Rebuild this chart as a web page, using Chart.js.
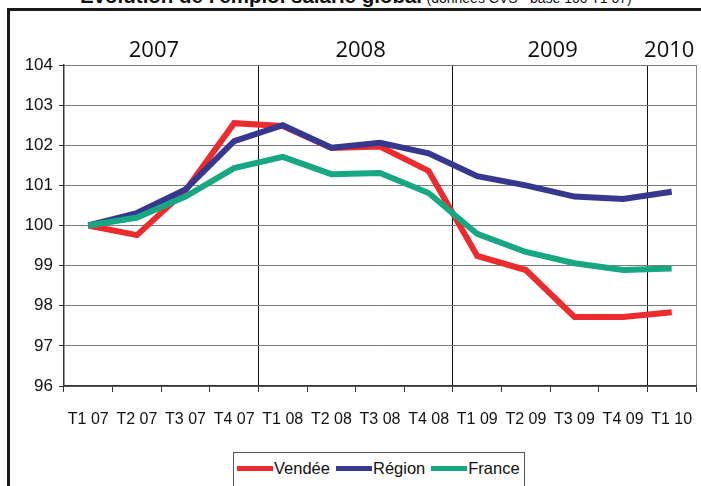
<!DOCTYPE html>
<html>
<head>
<meta charset="utf-8">
<script src="https://cdn.jsdelivr.net/npm/chart.js@4"></script>
<style>
  html, body { margin: 0; padding: 0; background: #fff; width: 701px; height: 486px; overflow: hidden; }
  #wrap { position: relative; width: 701px; height: 486px; overflow: hidden; }
  #frame { position: absolute; left: 7px; top: 8px; width: 800px; height: 600px; border: 3px solid #1a1a1a; box-sizing: border-box; }
  #title { position: absolute; left: 80px; top: -15px; white-space: nowrap; font-family: 'Liberation Sans', Arial, sans-serif; color: #111; line-height: 21px; }
  #title b { font-size: 20.5px; font-weight: bold; }
  #title span { font-size: 14px; }
  #chartBox { position: absolute; left: 0; top: 0; width: 701px; height: 486px; }
  #legend { position: absolute; left: 233px; top: 452px; width: 292px; height: 60px; border: 1px solid #555; box-sizing: border-box; background: #fff;
            font-family: 'Liberation Sans', Arial, sans-serif; font-size: 16.5px; color: #111; }
  #legend .items { display: flex; align-items: center; padding: 3px 0 0 3px; height: 24px; }
  #legend .item { display: flex; align-items: center; margin-right: 6px; }
  #legend .bar { width: 36px; height: 5px; margin-right: 1px; }
</style>
</head>
<body>
<div id="wrap">
  <div id="frame"></div>
  <div id="title"><b>Evolution de l'emploi salarié global</b> <span>(données CVS - base 100 T1 07)</span></div>
  <div id="chartBox"><canvas id="c" width="701" height="486"></canvas></div>
  <div id="legend"><div class="items" id="legendItems"></div></div>
</div>
<script>
// ---- data ----
const categories = ['T1 07','T2 07','T3 07','T4 07','T1 08','T2 08','T3 08','T4 08','T1 09','T2 09','T3 09','T4 09','T1 10'];
const vendee = [100, 99.76, 100.87, 102.55, 102.48, 101.93, 101.97, 101.36, 99.24, 98.89, 97.72, 97.72, 97.84];
const region = [100, 100.31, 100.9, 102.1, 102.5, 101.94, 102.06, 101.8, 101.23, 101.0, 100.72, 100.66, 100.84];
const france = [100, 100.2, 100.72, 101.43, 101.71, 101.28, 101.31, 100.81, 99.79, 99.34, 99.06, 98.89, 98.93];
const seriesNames = ['Vendée', 'Région', 'France'];
const yearLabels = ['2007', '2008', '2009', '2010'];
const yMin = 96, yMax = 104, yStep = 1;

// ---- styles ----
const colors = ['#ec2b2e', '#36378f', '#18a783'];
const yearCenters = [1.35, 5.6, 9.55, 11.95];   // in category units
const yearBoundaryIdx = [4, 8, 12];
const fontFam = "'Liberation Sans', Arial, sans-serif";

const yearPlugin = {
  id: 'yearLabels',
  afterDraw(chart) {
    const ctx = chart.ctx;
    const xs = chart.scales.x;
    ctx.save();
    ctx.fillStyle = '#0d0d0d';
    ctx.font = "22px 'Open Sans', 'Noto Sans', sans-serif";
    ctx.textAlign = 'center';
    ctx.textBaseline = 'alphabetic';
    yearLabels.forEach((t, i) => {
      ctx.fillText(t, xs.getPixelForValue(yearCenters[i]), 57);
    });
    ctx.restore();
  }
};

const data = [vendee, region, france];
new Chart(document.getElementById('c'), {
  type: 'line',
  data: {
    labels: categories,
    datasets: seriesNames.map((n, i) => ({
      label: n,
      data: data[i],
      borderColor: colors[i],
      backgroundColor: colors[i],
      borderWidth: 6,
      pointRadius: 0,
      tension: 0,
      fill: false,
      order: 2 - i
    }))
  },
  options: {
    responsive: false,
    animation: false,
    devicePixelRatio: 1,
    layout: { padding: { left: 0, right: 5, top: 65, bottom: 0 } },
    plugins: { legend: { display: false }, tooltip: { enabled: false }, title: { display: false } },
    scales: {
      x: {
        offset: true,
        afterFit(s) { s.height = 100; s.paddingLeft = 0; s.paddingRight = 0; },
        grid: {
          offset: true,
          drawOnChartArea: true,
          tickLength: 6,
          tickColor: '#333',
          color: (c) => {
            if (c.index === undefined) return '#8a8a8a';
            return yearBoundaryIdx.includes(c.index) ? '#111' : 'rgba(0,0,0,0)';
          },
          lineWidth: 1
        },
        border: { color: '#333', width: 1.5 },
        ticks: { autoSkip: false, maxRotation: 0, color: '#111', font: { family: fontFam, size: 16 }, padding: 18 }
      },
      y: {
        min: yMin, max: yMax,
        afterFit(s) { s.width = 64; s.paddingTop = 0; s.paddingBottom = 0; },
        grid: { color: '#7a7a7a', tickLength: 5, tickColor: '#333', lineWidth: 1 },
        border: { color: '#333', width: 1.5 },
        ticks: { stepSize: yStep, color: '#111', font: { family: fontFam, size: 17 }, padding: 6 }
      }
    }
  },
  plugins: [yearPlugin]
});

// HTML legend built from series names/colours
const li = document.getElementById('legendItems');
seriesNames.forEach((n, i) => {
  const it = document.createElement('div'); it.className = 'item';
  const b = document.createElement('div'); b.className = 'bar'; b.style.background = colors[i];
  const t = document.createElement('span'); t.textContent = n;
  it.appendChild(b); it.appendChild(t); li.appendChild(it);
});
</script>
</body>
</html>
